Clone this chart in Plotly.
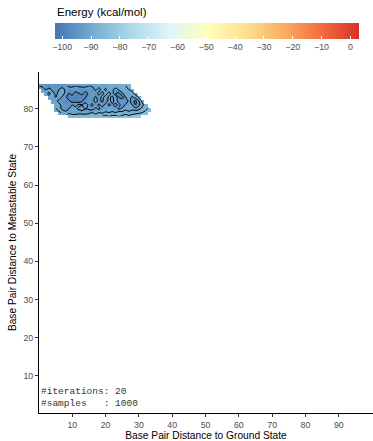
import plotly.graph_objects as go

N = None
NX = 34
x_vals = list(range(NX))
y_vals = [78, 79, 80, 81, 82, 83, 84, 85, 86]

# first x column of each row (rows listed bottom to top)
row_start = [9, 6, 5, 5, 4, 3, 2, 1, 0]

row_78 = [-86, -87, -86, -87, -86, -85, -86, -85, -86, -85, -85, -84, -85, -84, -84, -85,
          -84, -83, -84, -83, -83, -82]
row_79 = [-88, -90, -91, -90, -91, -92, -90, -91, -92, -90, -89, -91, -89, -90, -88, -89,
          -88, -89, -87, -88, -87, -88, -87, -86, -86, -85, -84]
row_80 = [-89, -91, -94, -96, -93, -90, -92, -94, -95, -93, -94, -95, -92, -94, -91, -93,
          -90, -92, -91, -94, -92, -90, -91, -90, -92, -90, -88, -86, -84]
row_81 = [-90, -92, -94, -96, -95, -93, -94, -92, -93, -91, -94, -92, -96, -92, -95, -91,
          -94, -92, -95, -91, -96, -92, -90, -93, -97, -94, -90, -87]
row_82 = [-91, -92, -94, -95, -97, -96, -99, -98, -100, -97, -95, -93, -95, -91, -95, -92,
          -96, -91, -95, -90, -96, -93, -97, -91, -96, -98, -93, -88]
row_83 = [-90, -92, -93, -91, -94, -96, -99, -98, -100, -98, -99, -97, -94, -96, -92, -96,
          -91, -96, -92, -94, -90, -97, -99, -93, -90, -94, -91, -88]
row_84 = [-91, -88, -91, -94, -92, -90, -95, -97, -96, -99, -97, -96, -99, -95, -93, -96,
          -91, -95, -90, -95, -91, -97, -98, -94, -90, -92, -90, -88]
row_85 = [-91, -93, -91, -94, -96, -93, -91, -94, -96, -95, -94, -96, -97, -95, -94, -96,
          -92, -95, -91, -94, -90, -92, -95, -92, -90, -91, -89, -88]
row_86 = [-93, -94, -95, -96, -95, -95, -96, -95, -94, -92, -92, -93, -92, -91, -92, -93,
          -92, -91, -91, -92, -91, -90, -91, -90, -90, -89, -89, -88]
rows = [row_78, row_79, row_80, row_81, row_82, row_83, row_84, row_85, row_86]

energy = []
for s, r in zip(row_start, rows):
    line = [N] * s + list(r)
    line += [N] * (NX - len(line))
    energy.append(line)

x_ticks = [10, 20, 30, 40, 50, 60, 70, 80, 90]
y_ticks = [10, 20, 30, 40, 50, 60, 70, 80]
cbar_ticks = [-100, -90, -80, -70, -60, -50, -40, -30, -20, -10, 0]
info_lines = ["#iterations: 20", "#samples\u00a0\u00a0\u00a0: 1000"]

scale = [[0.0, "#4575b4"], [0.125, "#74add1"], [0.25, "#abd9e9"], [0.375, "#e0f3f8"],
         [0.5, "#ffffbf"], [0.625, "#fee090"], [0.75, "#fdae61"], [0.875, "#f46d43"],
         [1.0, "#d73027"]]

PH = 341.0
PW = 334.0

fig = go.Figure()
fig.add_trace(go.Heatmap(
    x=x_vals, y=y_vals, z=energy, colorscale=scale, zmin=-102.5, zmax=3,
    hoverongaps=False, zsmooth="best",
    colorbar=dict(
        orientation="h", lenmode="pixels", len=304, thickness=16,
        x=(55 - 39) / PW, xanchor="left", y=1 + (72 - 23) / PH, yanchor="top",
        xpad=0, ypad=0, outlinewidth=0,
        tickvals=cbar_ticks, ticktext=[("\u2212" + str(-v)) if v < 0 else str(v) for v in cbar_ticks],
        ticks="inside", ticklen=3, tickcolor="white", tickwidth=1,
        tickfont=dict(family="Liberation Sans", size=8.8, color="#4d4d4d"),
    ),
))
fig.add_trace(go.Contour(
    x=x_vals, y=y_vals, z=energy, showscale=False, connectgaps=False,
    contours=dict(coloring="none", start=-97, end=-85, size=4),
    line=dict(color="black", width=1), hoverinfo="skip",
))

fig.add_annotation(
    x=(55 - 39) / PW, y=1 + (72 - 12) / PH, xref="paper", yref="paper",
    xanchor="left", yanchor="middle", showarrow=False,
    text="Energy (kcal/mol)",
    font=dict(family="Liberation Sans", size=11.5, color="black"),
)
fig.add_annotation(
    x=0, y=0, xref="paper", yref="paper", xanchor="left", yanchor="bottom",
    showarrow=False, align="left", text="<br>".join(info_lines),
    font=dict(family="Liberation Mono", size=9.5, color="#333333"),
    xshift=0, yshift=2,
)

axis_common = dict(
    showgrid=False, zeroline=False, showline=True, linecolor="black", linewidth=1,
    ticks="outside", ticklen=3, tickcolor="#333333", automargin=False,
    tickfont=dict(family="Liberation Sans", size=8.8, color="#4d4d4d"),
)
fig.update_xaxes(range=[0, 100.27], tickvals=x_ticks, **axis_common,
                 title=dict(text="Base Pair Distance to Ground State", standoff=1,
                            font=dict(family="Liberation Sans", size=10.2, color="black")))
fig.update_yaxes(range=[0.24, 89.63], tickvals=y_ticks, **axis_common,
                 title=dict(text="Base Pair Distance to Metastable State", standoff=4,
                            font=dict(family="Liberation Sans", size=10.2, color="black")))
fig.update_layout(
    width=373, height=441, margin=dict(l=39, r=0, t=72, b=28, autoexpand=False),
    paper_bgcolor="white", plot_bgcolor="white", showlegend=False,
)
fig.write_html("out.html", config={"displayModeBar": False},
               post_script="document.body.style.margin='0';")
